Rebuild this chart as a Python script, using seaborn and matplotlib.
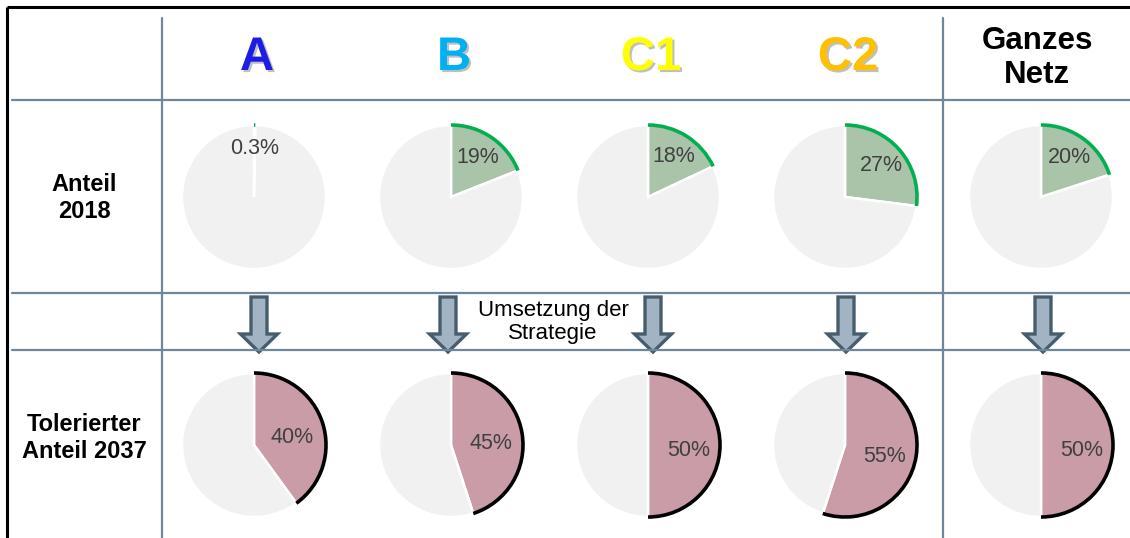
import numpy as np
import matplotlib
matplotlib.use("Agg")
import matplotlib.pyplot as plt
import matplotlib.patheffects as pe
from matplotlib.patches import Arc, FancyArrow
import seaborn as sns

# Data
groups = ["A", "B", "C1", "C2", "Ganzes\nNetz"]
share_2018 = [0.3, 19, 18, 27, 20]
share_2037 = [40, 45, 50, 55, 50]
row_labels = ["Anteil\n2018", "Tolerierter\nAnteil 2037"]
middle_text = "Umsetzung der\nStrategie"

header_colors = ["#1c1ce6", "#00b0f0", "#ffff00", "#ffc000", "black"]

sns.set_theme(style="white")
plt.rcParams["font.family"] = ["Liberation Sans", "DejaVu Sans"]

W, H = 1130, 538
fig = plt.figure(figsize=(W / 100, H / 100), dpi=100)
ax = fig.add_axes([0, 0, 1, 1])

def Y(y):
    # layout is measured from the top of the picture
    return H - y

col_x = [254, 451, 648, 845, 1041]
arrow_x = [259, 448, 653, 846, 1043]
row_y = [197, 445]
label_y = [198, 438]
radius = 72
grid_c = "#6f879a"
gray = "#f1f1f1"

# table frame and grid
ax.plot([7, W], [Y(7), Y(7)], color="black", lw=2.2, solid_capstyle="butt")
ax.plot([7, 7], [Y(7), 0], color="black", lw=2.2, solid_capstyle="butt")
for yy in [100, 293, 350]:
    ax.plot([12, W], [Y(yy), Y(yy)], color=grid_c, lw=1.6)
for xx in [162, 943]:
    ax.plot([xx, xx], [Y(18), 0], color=grid_c, lw=1.6)

# column headers
shadow = [pe.SimplePatchShadow(offset=(1.5, -1.5), shadow_rgbFace="#808080", alpha=0.5), pe.Normal()]
for x, g, c in zip(col_x, groups, header_colors):
    if "\n" in g:
        ax.text(x - 4, Y(58), g, ha="center", va="center", fontsize=22.5, fontweight="bold",
                color=c, linespacing=1.15)
    else:
        ax.text(x + 3, Y(58), g, ha="center", va="center", fontsize=34, fontweight="bold",
                color=c, path_effects=shadow)

# row labels
for yy, lab in zip(label_y, row_labels):
    ax.text(84, Y(yy), lab, ha="center", va="center", fontsize=17, fontweight="bold",
            color="black", linespacing=1.18)

ax.text(553, Y(322), middle_text, ha="center", va="center", fontsize=16, color="black",
        linespacing=1.1)

# pies (last item: small vertical nudge of the percent label)
rows = [(share_2018, "#a9c4a9", "#00b050", 0.67, 0), (share_2037, "#c99ca8", "black", 0.56, 5)]
for (vals, fill, edge, pdist, nudge), yy in zip(rows, row_y):
    for x, v in zip(col_x, vals):
        wedges, texts, autotexts = ax.pie(
            [v, 100 - v], startangle=90, counterclock=False,
            center=(x, Y(yy)), radius=radius, colors=[fill, gray],
            autopct="%1.0f%%", pctdistance=pdist,
            wedgeprops=dict(edgecolor="white", linewidth=1.8),
            textprops=dict(fontsize=15.5, color="#404040"))
        autotexts[0].set_text(f"{v:g}%")
        tx, ty = autotexts[0].get_position()
        autotexts[0].set_position((tx, ty - nudge))
        autotexts[1].set_text("")
        ax.add_patch(Arc((x, Y(yy)), 2 * radius, 2 * radius, theta1=90 - 3.6 * v, theta2=90,
                         color=edge, lw=2.6))

# arrows between the rows
for x in arrow_x:
    ax.add_patch(FancyArrow(x, Y(297), 0, -(352 - 297), width=16, head_width=37,
                            head_length=18, length_includes_head=True,
                            facecolor="#a2b4c3", edgecolor="#475d6b", lw=2.4))

ax.set_xlim(0, W)
ax.set_ylim(0, H)
ax.set_aspect("auto")
ax.axis("off")

fig.savefig("out.png", dpi=100)
